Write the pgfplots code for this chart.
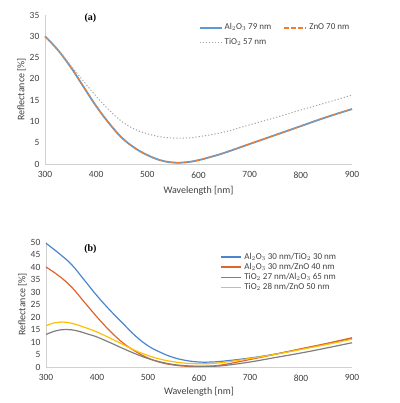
\documentclass[border=0pt]{standalone}
\usepackage{pgfplots}
\pgfplotsset{compat=1.18}
\usepackage{fontspec}
\setmainfont{Carlito}
\newfontfamily\serifb{Liberation Serif}
\definecolor{xblue}{HTML}{5B9BD5}
\definecolor{xorange}{HTML}{ED7D31}
\definecolor{xgrey}{HTML}{A5A5A5}
\definecolor{bblue}{HTML}{4A86CE}
\definecolor{borange}{HTML}{E0642A}
\definecolor{bgrey}{HTML}{7F7F7F}
\definecolor{byellow}{HTML}{FFC000}
\definecolor{axgrey}{HTML}{D0D0D0}
\definecolor{txt}{HTML}{404040}
\pgfplotsset{
  xl/.style={
    scale only axis,
    axis x line=bottom, axis y line=left,
    axis line style={axgrey, line width=0.8pt, -},
    tick style={draw=none},
    xmin=300, xmax=900, xtick={300,400,...,900},
    tick label style={font=\fontsize{9.5}{10}\selectfont, text=txt},
    xticklabel style={yshift=-2pt},
    /pgf/number format/assume math mode=true,
    label style={font=\fontsize{10}{11}\selectfont, text=txt},
    xlabel={Wavelength [nm]},
    ylabel={Reflectance [\%]},
    clip=false,
    legend cell align=left,
    every axis plot/.append style={line width=1.2pt, smooth, tension=0.7},
  }
}
\begin{document}
\begin{tikzpicture}
\path[use as bounding box] (0,0) rectangle (399pt,403pt);
\begin{axis}[xl, at={(45pt,239pt)}, anchor=south west, width=307pt, height=149pt,
  ymin=0, ymax=35, ytick={0,5,...,35},
  xlabel style={yshift=-1pt}, ylabel style={yshift=-3pt},
  legend columns=2,
  legend style={at={(rel axis cs:0.49,0.97)}, anchor=north west, draw=none, fill=none,
    font=\fontsize{9}{10}\selectfont, text=txt, row sep=3pt,
    /tikz/every even column/.append style={column sep=10pt}},
  legend image code/.code={\draw[#1] (0pt,0pt) -- (22pt,0pt);}]
\addlegendimage{color=xblue, draw=xblue, line width=2pt, solid}
\addlegendentry{Al$_2$O$_3$ 79 nm}
\addlegendimage{color=xorange, draw=xorange, line width=2pt, dash pattern=on 4.5pt off 2.5pt}
\addlegendentry{ZnO 70 nm}
\addlegendimage{color=xgrey, draw=xgrey, line width=1pt, dotted}
\addlegendentry{TiO$_2$ 57 nm}
\addplot[forget plot, color=xblue, line width=1.8pt] coordinates {
(300,30) (325,26.8) (350,22.8) (375,18.2) (400,13.6) (425,9.6) (450,6.2) (475,3.8) (500,2.1) (525,0.9) (550,0.35) (575,0.4) (600,0.9) (625,1.7) (650,2.6) (700,4.7) (750,6.8) (800,8.9) (850,11) (900,12.9)};
\addplot[forget plot, color=xorange, dash pattern=on 4pt off 2.5pt, line width=1.3pt] coordinates {
(300,30) (325,26.8) (350,22.8) (375,18.2) (400,13.6) (425,9.6) (450,6.2) (475,3.8) (500,2.1) (525,0.9) (550,0.35) (575,0.4) (600,0.9) (625,1.7) (650,2.6) (700,4.7) (750,6.8) (800,8.9) (850,11) (900,12.9)};
\addplot[forget plot, color=xgrey, dotted, line width=1.0pt] coordinates {
(300,30) (325,26.8) (350,23.2) (375,19.5) (400,15.9) (425,12.7) (450,10.0) (475,8.2) (500,7.1) (525,6.4) (550,6.1) (575,6.1) (600,6.4) (650,7.5) (700,9.2) (750,10.9) (800,12.7) (850,14.4) (900,16.2)};
\node[font=\serifb\bfseries\fontsize{10}{11}\selectfont, anchor=center] at (rel axis cs:0.148,0.98) {(a)};
\end{axis}
\begin{axis}[xl, at={(46pt,36pt)}, anchor=south west, width=306pt, height=125pt,
  ymin=0, ymax=50, ytick={0,5,...,50},
  xlabel style={yshift=1pt}, ylabel style={yshift=-3pt},
  legend style={at={(rel axis cs:0.57,0.93)}, anchor=north west, draw=none, fill=none,
    font=\fontsize{9}{10}\selectfont, text=txt, row sep=-1.5pt,
    inner sep=0pt, /tikz/every odd column/.append style={column sep=0pt}},
  legend image code/.code={\draw[#1] (0pt,0pt) -- (20pt,0pt);}]
\addlegendimage{color=bblue, draw=bblue, line width=1.5pt, solid}
\addlegendentry{Al$_2$O$_3$ 30 nm/TiO$_2$ 30 nm}
\addlegendimage{color=borange, draw=borange, line width=1.5pt, solid}
\addlegendentry{Al$_2$O$_3$ 30 nm/ZnO 40 nm}
\addlegendimage{color=bgrey, draw=bgrey, line width=1.5pt, solid}
\addlegendentry{TiO$_2$ 27 nm/Al$_2$O$_3$ 65 nm}
\addlegendimage{color=byellow, draw=byellow, line width=1.7pt, solid}
\addlegendentry{TiO$_2$ 28 nm/ZnO 50 nm}
\addplot[forget plot, color=bblue] coordinates {
(300,49.5) (325,45.5) (350,41) (375,34.8) (400,28.5) (425,22.8) (450,17.6) (475,12.5) (500,8.5) (525,5.8) (550,3.8) (575,2.6) (600,2.0) (625,2.0) (650,2.4) (700,3.6) (750,5.2) (800,7.2) (850,9.3) (900,11.5)};
\addplot[forget plot, color=borange] coordinates {
(300,40) (325,36.5) (350,32) (375,26) (400,20) (425,14.5) (450,9.8) (475,6.3) (500,3.6) (525,1.8) (550,0.8) (575,0.3) (600,0.2) (625,0.4) (650,1.0) (700,3.0) (750,5.1) (800,7.3) (850,9.4) (900,11.7)};
\addplot[forget plot, color=bgrey] coordinates {
(300,13) (320,14.5) (340,15) (360,14.5) (380,13.3) (400,12) (425,9.8) (450,7.5) (475,5.3) (500,3.4) (525,2.0) (550,1.0) (575,0.5) (600,0.3) (625,0.3) (650,0.6) (700,2.0) (750,3.8) (800,5.6) (850,7.6) (900,9.7)};
\addplot[forget plot, color=byellow] coordinates {
(300,16.5) (315,17.6) (330,18) (350,17.5) (375,15.9) (400,14) (425,11.6) (450,9.1) (475,6.6) (500,4.6) (525,3.1) (550,2.1) (575,1.5) (600,1.3) (625,1.4) (650,1.9) (700,3.4) (750,5.1) (800,7.0) (850,9.0) (900,11.1)};
\node[font=\serifb\bfseries\fontsize{10}{11}\selectfont, anchor=center] at (rel axis cs:0.145,0.94) {(b)};
\end{axis}
\end{tikzpicture}
\end{document}
